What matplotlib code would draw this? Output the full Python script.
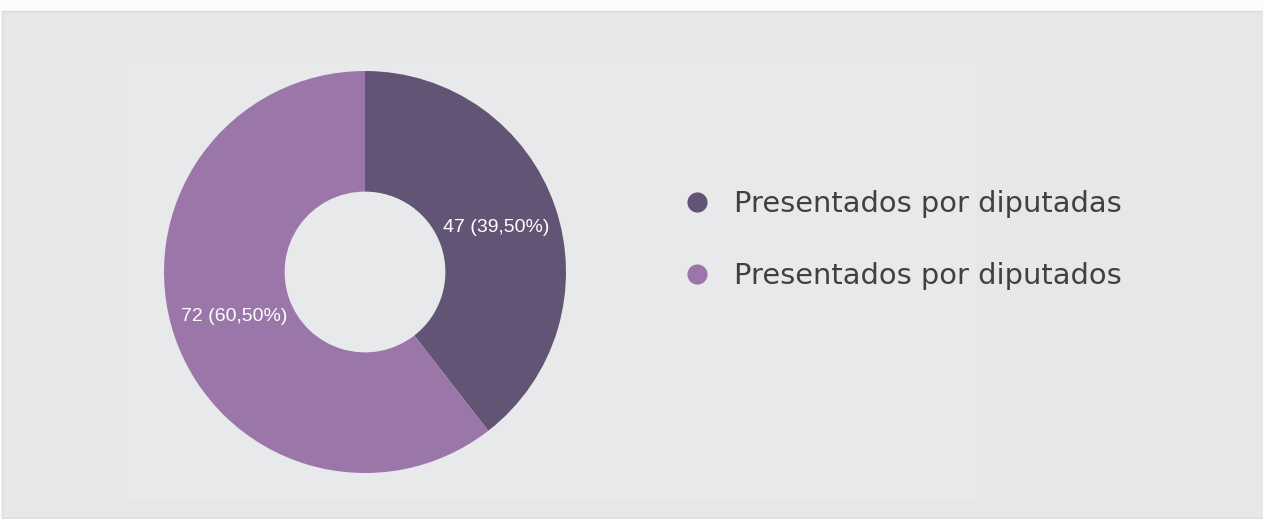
import matplotlib.pyplot as plt
from matplotlib.patches import Rectangle
from matplotlib.lines import Line2D

# data
categories = ["Presentados por diputadas", "Presentados por diputados"]
values = [47, 72]
pct_labels = ["47 (39,50%)", "72 (60,50%)"]
colours = ["#625475", "#9b77a9"]

W, H = 1263, 519
fig = plt.figure(figsize=(W / 100, H / 100), dpi=100)
fig.patch.set_facecolor("#fdfbfc")

# background panel, pixel coordinates (origin top-left)
bg = fig.add_axes([0, 0, 1, 1])
bg.set_xlim(0, W)
bg.set_ylim(H, 0)
bg.axis("off")
bg.add_patch(Rectangle((2, 11), W, H - 12, facecolor="#e6e7e9", edgecolor="#dcdcdf", lw=1))
bg.add_patch(Rectangle((122, 57), 855, 444, facecolor="#e8e9eb", edgecolor="none"))

# donut
cx, cy, r = 365, 272, 201
pax = fig.add_axes([(cx - r) / W, (H - cy - r) / H, 2 * r / W, 2 * r / H])
wedges, texts = pax.pie(values, colors=colours, startangle=90, counterclock=False,
                        radius=1, labels=pct_labels, labeldistance=0.69,
                        wedgeprops=dict(width=0.6, edgecolor="none"),
                        textprops=dict(color="white", fontsize=14, family="Liberation Sans"))
for t in texts:
    t.set_horizontalalignment("center")
pax.set_xlim(-1, 1)
pax.set_ylim(-1, 1)
pax.set_aspect("equal")

# legend
handles = [Line2D([], [], marker="o", ls="none", markersize=14.5, markerfacecolor=c,
                  markeredgecolor="none") for c in colours]
leg = fig.legend(handles, categories, loc="upper left", bbox_to_anchor=(683 / W, 1 - 190 / H),
                 frameon=False, labelspacing=1.52, handletextpad=0.78,
                 handlelength=1.0, borderpad=0, borderaxespad=0,
                 prop=dict(family="DejaVu Sans", size=20.8))
for t in leg.get_texts():
    t.set_color("#404040")

fig.savefig("out.png", dpi=100, facecolor=fig.get_facecolor())
